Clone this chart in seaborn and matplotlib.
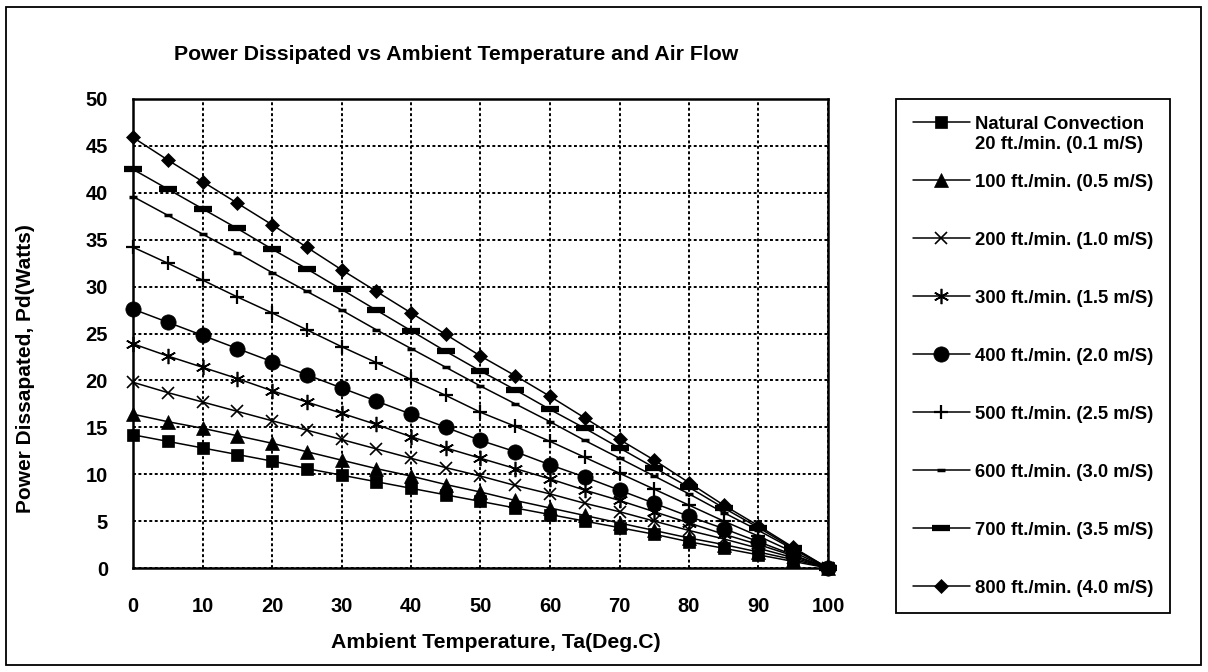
import matplotlib
matplotlib.use("Agg")
import matplotlib.pyplot as plt
import seaborn as sns
import numpy as np
import pandas as pd
from matplotlib.patches import Rectangle

# ---------------- data ----------------
temps = [0, 5, 10, 15, 20, 25, 30, 35, 40, 45, 50,
         55, 60, 65, 70, 75, 80, 85, 90, 95, 100]

natural = [14.2, 13.5, 12.8, 12.1, 11.4, 10.6, 9.9, 9.2, 8.5, 7.8, 7.1,
           6.4, 5.7, 5.0, 4.3, 3.6, 2.8, 2.1, 1.4, 0.7, 0.0]
ff100 = [16.4, 15.6, 14.9, 14.1, 13.3, 12.4, 11.5, 10.6, 9.8, 8.9, 8.1,
         7.2, 6.4, 5.6, 4.8, 4.0, 3.2, 2.5, 1.7, 0.9, 0.0]
ff200 = [19.8, 18.7, 17.7, 16.7, 15.7, 14.7, 13.7, 12.7, 11.7, 10.7, 9.8,
         8.8, 7.9, 6.9, 6.0, 5.0, 4.0, 3.1, 2.1, 1.1, 0.0]
ff300 = [23.9, 22.6, 21.4, 20.2, 18.9, 17.7, 16.5, 15.3, 14.0, 12.8, 11.7,
         10.6, 9.5, 8.3, 7.2, 6.0, 4.8, 3.6, 2.5, 1.3, 0.0]
ff400 = [27.6, 26.2, 24.8, 23.4, 22.0, 20.6, 19.2, 17.8, 16.4, 15.0, 13.6,
         12.4, 11.0, 9.7, 8.3, 6.9, 5.5, 4.2, 2.8, 1.4, 0.0]
ff500 = [34.2, 32.5, 30.7, 28.9, 27.2, 25.4, 23.6, 21.9, 20.1, 18.4, 16.6,
         15.1, 13.5, 11.8, 10.1, 8.4, 6.7, 5.0, 3.4, 1.7, 0.0]
ff600 = [39.6, 37.6, 35.6, 33.6, 31.5, 29.5, 27.5, 25.4, 23.4, 21.4, 19.4,
         17.5, 15.6, 13.6, 11.7, 9.8, 7.9, 5.9, 4.0, 2.0, 0.0]
ff700 = [42.5, 40.4, 38.3, 36.2, 34.0, 31.9, 29.7, 27.5, 25.3, 23.1, 21.0,
         19.0, 16.9, 14.9, 12.8, 10.7, 8.6, 6.4, 4.3, 2.1, 0.0]
ff800 = [45.9, 43.5, 41.2, 38.9, 36.6, 34.2, 31.8, 29.5, 27.2, 24.9, 22.6,
         20.5, 18.3, 16.0, 13.7, 11.5, 9.1, 6.7, 4.5, 2.2, 0.0]

series_values = [natural, ff100, ff200, ff300, ff400, ff500, ff600, ff700, ff800]
series_labels = ["Natural Convection",
                 "100 ft./min. (0.5 m/S)",
                 "200 ft./min. (1.0 m/S)",
                 "300 ft./min. (1.5 m/S)",
                 "400 ft./min. (2.0 m/S)",
                 "500 ft./min. (2.5 m/S)",
                 "600 ft./min. (3.0 m/S)",
                 "700 ft./min. (3.5 m/S)",
                 "800 ft./min. (4.0 m/S)"]
natural_second_line = "20 ft./min. (0.1 m/S)"

x_ticks = [0, 10, 20, 30, 40, 50, 60, 70, 80, 90, 100]
y_ticks = [0, 5, 10, 15, 20, 25, 30, 35, 40, 45, 50]

title = "Power Dissipated vs Ambient Temperature and Air Flow"
x_label = "Ambient Temperature, Ta(Deg.C)"
y_label = "Power Dissapated, Pd(Watts)"

# ---------------- styling ----------------
sns.set_theme(style="white")
plt.rcParams["font.family"] = ["Liberation Sans", "DejaVu Sans"]
plt.rcParams["font.weight"] = "bold"
plt.rcParams["axes.labelweight"] = "bold"

W, H = 1208, 672
fig = plt.figure(figsize=(W / 100, H / 100), dpi=100)
fig.patch.set_facecolor("white")

# outer frame
fig.patches.append(Rectangle((6 / W, 7 / H), (1201 - 6) / W, (665 - 7) / H,
                             transform=fig.transFigure, fill=False,
                             edgecolor="black", linewidth=1.3))

ax_l, ax_r, ax_t, ax_b = 133, 828, 99, 568
ax = fig.add_axes([ax_l / W, 1 - ax_b / H, (ax_r - ax_l) / W, (ax_b - ax_t) / H])

marker_styles = [
    dict(marker="s", markersize=8.5, markeredgewidth=0.5),
    dict(marker="^", markersize=9.5, markeredgewidth=0.5),
    dict(marker="x", markersize=9, markeredgewidth=1.2),
    dict(marker=(6, 2, 0), markersize=11, markeredgewidth=1.2),
    dict(marker="o", markersize=11, markeredgewidth=0.5),
    dict(marker="+", markersize=10, markeredgewidth=1.6),
    dict(marker="_", markersize=6, markeredgewidth=2.5),
    dict(marker="_", markersize=13, markeredgewidth=4.5),
    dict(marker="D", markersize=7.5, markeredgewidth=0.5),
]

for vals, lab, st in zip(series_values, series_labels, marker_styles):
    sns.lineplot(x=temps, y=vals, ax=ax, color="black", linewidth=1.1,
                 label=lab, markeredgecolor="black", markerfacecolor="black",
                 clip_on=False, zorder=3, **st)

ax.set_xlim(0, 100)
ax.set_ylim(0, 50)
ax.set_xticks(x_ticks)
ax.set_yticks(y_ticks)
ax.set_xticklabels([str(v) for v in x_ticks])
ax.set_yticklabels([str(v) for v in y_ticks])
ax.tick_params(axis="both", length=0, labelsize=14.5, colors="black")
ax.tick_params(axis="x", pad=21)
ax.tick_params(axis="y", pad=18)
for lbl in ax.get_xticklabels() + ax.get_yticklabels():
    lbl.set_fontweight("bold")

ax.grid(True, color="black", linewidth=1.4, linestyle=(0, (1.5, 1.3)), zorder=1)
ax.set_axisbelow(True)
for sp in ax.spines.values():
    sp.set_visible(True)
    sp.set_color("black")
    sp.set_linewidth(1.8)
    sp.set_zorder(2.5)

ax.set_xlabel(x_label, fontsize=15.3, fontweight="bold", color="black")
ax.xaxis.set_label_coords((496 - ax_l) / (ax_r - ax_l), (ax_b - 633) / (ax_b - ax_t))
ax.set_ylabel(y_label, fontsize=15, fontweight="bold", color="black")
ax.yaxis.set_label_coords((35 - ax_l) / (ax_r - ax_l), (ax_b - 369) / (ax_b - ax_t))
ax.xaxis.label.set_va("top")

fig.text(456 / W, 1 - 55 / H, title, ha="center", va="center",
         fontsize=15.3, fontweight="bold", color="black")

handles, labels = ax.get_legend_handles_labels()
if ax.get_legend() is not None:
    ax.get_legend().remove()
leg = fig.legend(handles, labels, loc="upper left",
                 bbox_to_anchor=(896 / W, 1 - 99 / H),
                 bbox_transform=fig.transFigure,
                 fontsize=13.3, frameon=True, fancybox=False, shadow=False,
                 edgecolor="black", facecolor="white", framealpha=1,
                 borderpad=0.9, labelspacing=2.22, handlelength=3.1,
                 handletextpad=0.25, borderaxespad=0)
leg.get_frame().set_linewidth(1.3)
for t in leg.get_texts():
    t.set_fontweight("bold")
    t.set_color("black")

fig.canvas.draw()
r = fig.canvas.get_renderer()
bb = leg.get_texts()[0].get_window_extent(r)
cx = (bb.x0 + bb.x1) / 2 / W
fig.text(cx, (bb.y0 - 3) / H, natural_second_line, ha="center", va="top",
         fontsize=13.3, fontweight="bold", color="black", zorder=10)

fig.savefig("out.png", dpi=100, facecolor="white")
